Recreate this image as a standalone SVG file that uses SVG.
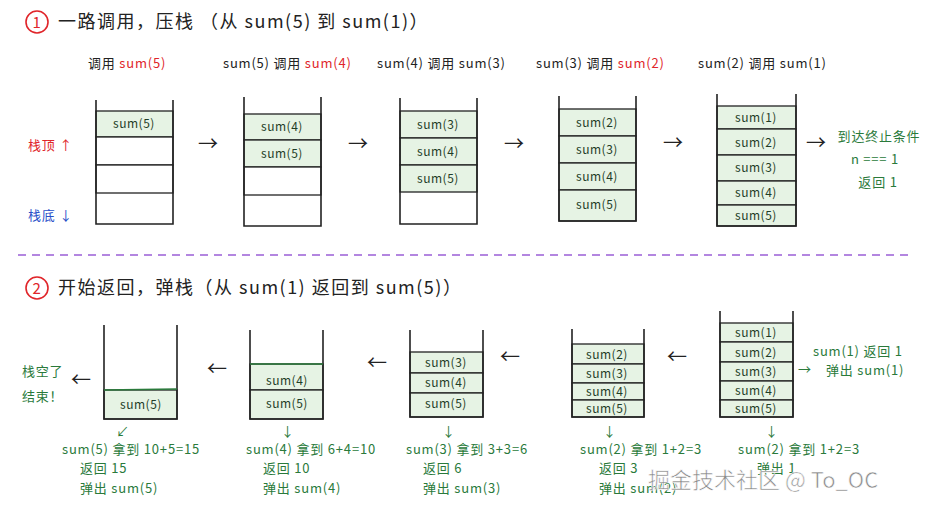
<svg xmlns="http://www.w3.org/2000/svg" width="926" height="509" viewBox="0 0 926 509">
<style>
text{font-family:"Noto Sans CJK SC","DejaVu Sans",sans-serif;fill:#222}
.t{font-size:18px;letter-spacing:1.5px}
.l{font-size:13px;letter-spacing:0.8px}
.c{font-size:12px;text-anchor:middle;fill:#1f3d27;letter-spacing:0.5px}
.g{fill:#2a7a3b}
.r{fill:#e0252a}
.b{fill:#2850c8}
.box{fill:none;stroke:#222;stroke-width:1.6}
.cell{fill:#e6f3e4;stroke:#222;stroke-width:1.3}
.emp{fill:#fff;stroke:#222;stroke-width:1.3}
.ar{font-size:20px;fill:#222}
</style>
<rect width="926" height="509" fill="#fff"/>
<g id="title1"><circle cx="37" cy="22" r="11" fill="none" stroke="#e0252a" stroke-width="1.6"/><text x="37" y="28" class="l r" text-anchor="middle" style="font-size:15px">1</text><text x="58" y="28" class="t">一路调用，压栈 （从 sum(5) 到 sum(1)）</text></g>
<g id="labels1" class="l">
<text x="88" y="68">调用 <tspan class="r">sum(5)</tspan></text>
<text x="223" y="68">sum(5) 调用 <tspan class="r">sum(4)</tspan></text>
<text x="377" y="68">sum(4) 调用 sum(3)</text>
<text x="536" y="68">sum(3) 调用 <tspan class="r">sum(2)</tspan></text>
<text x="698" y="68">sum(2) 调用 sum(1)</text>
<text x="28" y="150" class="r">栈顶 ↑</text>
<text x="28" y="220" class="b">栈底 ↓</text>
</g>
<g id="stack1a"><rect class="cell" x="96" y="111" width="77" height="26"/><rect class="emp" x="96" y="137" width="77" height="28"/><rect class="emp" x="96" y="165" width="77" height="28"/><path class="box" d="M96 100V224H173V100"/><text class="c" x="134" y="128">sum(5)</text></g>
<g id="stack1b"><rect class="cell" x="244" y="114" width="77" height="26"/><rect class="cell" x="244" y="140" width="77" height="27"/><rect class="emp" x="244" y="167" width="77" height="28"/><path class="box" d="M244 97V226H321V97"/><text class="c" x="282" y="131">sum(4)</text><text class="c" x="282" y="158">sum(5)</text></g>
<g id="stack1c"><rect class="cell" x="400" y="111" width="77" height="27"/><rect class="cell" x="400" y="138" width="77" height="27"/><rect class="cell" x="400" y="165" width="77" height="27"/><path class="box" d="M400 98V224H477V98"/><text class="c" x="438" y="129">sum(3)</text><text class="c" x="438" y="156">sum(4)</text><text class="c" x="438" y="183">sum(5)</text></g>
<g id="stack1d"><rect class="cell" x="559" y="109" width="77" height="27"/><rect class="cell" x="559" y="136" width="77" height="27"/><rect class="cell" x="559" y="163" width="77" height="27"/><rect class="cell" x="559" y="190" width="77" height="31"/><path class="box" d="M559 96V221H636V96"/><text class="c" x="597" y="127">sum(2)</text><text class="c" x="597" y="154">sum(3)</text><text class="c" x="597" y="181">sum(4)</text><text class="c" x="597" y="209">sum(5)</text></g>
<g id="stack1e"><rect class="cell" x="717" y="106" width="79" height="23"/><rect class="cell" x="717" y="129" width="79" height="26"/><rect class="cell" x="717" y="155" width="79" height="26"/><rect class="cell" x="717" y="181" width="79" height="24"/><rect class="cell" x="717" y="205" width="79" height="21"/><path class="box" d="M717 94V226H796V94"/><text class="c" x="756" y="122">sum(1)</text><text class="c" x="756" y="147">sum(2)</text><text class="c" x="756" y="172">sum(3)</text><text class="c" x="756" y="197">sum(4)</text><text class="c" x="756" y="220">sum(5)</text></g>
<g id="end1" class="l g" text-anchor="middle"><text x="879" y="141" class="g">到达终止条件</text><text x="875" y="164" class="g">n === 1</text><text x="878" y="187" class="g">返回 1</text></g>
<g id="connectors">
<text class="ar" x="198" y="151">→</text><text class="ar" x="348" y="151">→</text><text class="ar" x="504" y="151">→</text><text class="ar" x="663" y="150">→</text><text class="ar g" x="806" y="150">→</text>
<text class="ar" x="207" y="376">←</text><text class="ar" x="367" y="370">←</text><text class="ar" x="500" y="364">←</text><text class="ar" x="667" y="364">←</text><text class="ar g" x="71" y="387">←</text>
<text class="l g" x="798" y="374">→</text>
</g>
<line x1="18" y1="255" x2="910" y2="255" stroke="#9a5fd6" stroke-width="1.6" stroke-dasharray="8,6"/>
<g id="title2"><circle cx="37" cy="288" r="11" fill="none" stroke="#e0252a" stroke-width="1.6"/><text x="37" y="294" class="l r" text-anchor="middle" style="font-size:15px">2</text><text x="58" y="294" class="t">开始返回，弹栈（从 sum(1) 返回到 sum(5)）</text></g>
<g id="stack2a"><rect class="cell" x="104" y="390" width="73" height="29"/><path class="box" d="M104 325V419H177V325"/><line x1="104" y1="390" x2="177" y2="389" stroke="#2a7a3b" stroke-width="1.5"/><text class="c" x="141" y="409">sum(5)</text></g>
<g id="stack2b"><rect class="cell" x="250" y="364" width="73" height="26"/><rect class="cell" x="250" y="390" width="73" height="29"/><path class="box" d="M250 330V419H323V330"/><line x1="250" y1="364" x2="323" y2="364" stroke="#2a7a3b" stroke-width="1.5"/><text class="c" x="287" y="385">sum(4)</text><text class="c" x="287" y="408">sum(5)</text></g>
<g id="stack2c"><rect class="cell" x="410" y="352" width="73" height="21"/><rect class="cell" x="410" y="373" width="73" height="20"/><rect class="cell" x="410" y="393" width="73" height="24"/><path class="box" d="M410 330V417H483V330"/><text class="c" x="446" y="367">sum(3)</text><text class="c" x="446" y="387">sum(4)</text><text class="c" x="446" y="408">sum(5)</text></g>
<g id="stack2d"><rect class="cell" x="572" y="344" width="72" height="20"/><rect class="cell" x="572" y="364" width="72" height="19"/><rect class="cell" x="572" y="383" width="72" height="17"/><rect class="cell" x="572" y="400" width="72" height="17"/><path class="box" d="M572 329V417H644V329"/><text class="c" x="607" y="359">sum(2)</text><text class="c" x="607" y="378">sum(3)</text><text class="c" x="607" y="396">sum(4)</text><text class="c" x="607" y="413">sum(5)</text></g>
<g id="stack2e"><rect class="cell" x="720" y="323" width="73" height="19"/><rect class="cell" x="720" y="342" width="73" height="20"/><rect class="cell" x="720" y="362" width="73" height="19"/><rect class="cell" x="720" y="381" width="73" height="19"/><rect class="cell" x="720" y="400" width="73" height="17"/><path class="box" d="M720 311V417H793V311"/><text class="c" x="756" y="337">sum(1)</text><text class="c" x="756" y="357">sum(2)</text><text class="c" x="756" y="376">sum(3)</text><text class="c" x="756" y="395">sum(4)</text><text class="c" x="756" y="413">sum(5)</text></g>
<g id="notes2" class="l">
<text x="22" y="376" class="g">栈空了</text><text x="22" y="401" class="g">结束！</text>
<text x="813" y="356" class="g">sum(1) 返回 1</text><text x="826" y="375" class="g">弹出 sum(1)</text>
<text x="116" y="436" class="g">↙</text><text x="281" y="436" class="g">↓</text><text x="442" y="436" class="g">↓</text><text x="603" y="436" class="g">↓</text><text x="765" y="436" class="g">↓</text>
<text x="62" y="454" class="g">sum(5) 拿到 10+5=15</text><text x="80" y="473" class="g">返回 15</text><text x="80" y="493" class="g">弹出 sum(5)</text>
<text x="246" y="454" class="g">sum(4) 拿到 6+4=10</text><text x="263" y="473" class="g">返回 10</text><text x="263" y="493" class="g">弹出 sum(4)</text>
<text x="406" y="454" class="g">sum(3) 拿到 3+3=6</text><text x="423" y="473" class="g">返回 6</text><text x="423" y="493" class="g">弹出 sum(3)</text>
<text x="580" y="454" class="g">sum(2) 拿到 1+2=3</text><text x="599" y="473" class="g">返回 3</text><text x="599" y="493" class="g">弹出 sum(2)</text>
<text x="738" y="454" class="g">sum(2) 拿到 1+2=3</text><text x="757" y="473" class="g">弹出 1</text>
</g>
<text x="648" y="488" style="font-size:22px;fill:#888;stroke:#fff;stroke-width:0.6">掘金技术社区 @ To_OC</text>
</svg>
